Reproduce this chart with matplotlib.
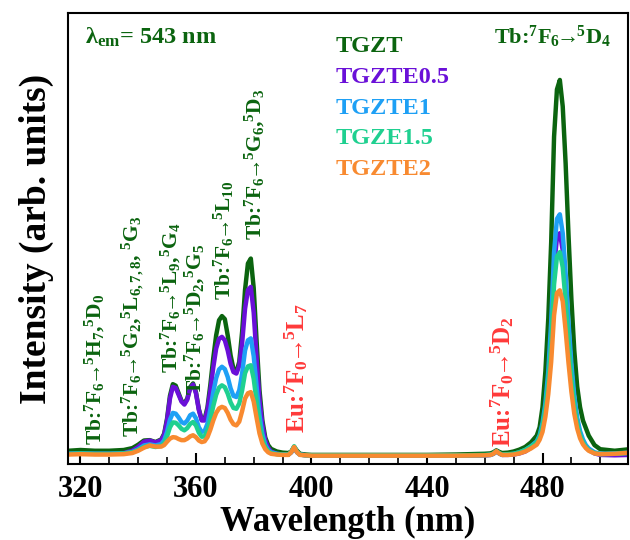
import matplotlib
matplotlib.use('Agg')
import matplotlib.pyplot as plt
from matplotlib.ticker import MultipleLocator

plt.rcParams['font.family'] = ['Liberation Serif', 'DejaVu Serif']
plt.rcParams['font.weight'] = 'bold'
plt.rcParams['mathtext.fontset'] = 'custom'
plt.rcParams['mathtext.rm'] = 'Liberation Serif:bold'
plt.rcParams['mathtext.bf'] = 'Liberation Serif:bold'
plt.rcParams['mathtext.it'] = 'Liberation Serif:bold:italic'

# wavelength grid (nm)
wl = [316, 320, 325, 330, 335, 338, 340, 342, 344, 346,
      348, 349, 350, 351, 352, 353, 354, 355, 356, 357,
      358, 359, 360, 361, 362, 363, 364, 365, 366, 367,
      368, 369, 370, 371, 372, 373, 374, 375, 376, 377,
      378, 379, 380, 381, 382, 383, 384, 385, 386, 388,
      390, 392, 393, 394, 395, 396, 398, 400, 410, 420,
      430, 440, 450, 460, 462, 463, 464, 465, 466, 468,
      470, 472, 474, 476, 478, 479, 480, 481, 482, 483,
      484, 485, 486, 487, 488, 489, 490, 491, 492, 493,
      494, 495, 496, 498, 500, 505, 510]

tgzt = [0.020, 0.022, 0.020, 0.020, 0.022, 0.027, 0.036, 0.047, 0.048, 0.043,
        0.050, 0.065, 0.105, 0.165, 0.196, 0.192, 0.172, 0.152, 0.145, 0.158,
        0.188, 0.198, 0.175, 0.130, 0.102, 0.103, 0.135, 0.195, 0.265, 0.325,
        0.365, 0.376, 0.368, 0.325, 0.272, 0.236, 0.228, 0.255, 0.335, 0.445,
        0.515, 0.528, 0.450, 0.310, 0.180, 0.100, 0.055, 0.035, 0.025, 0.018,
        0.015, 0.014, 0.018, 0.030, 0.020, 0.012, 0.010, 0.009, 0.009, 0.009,
        0.009, 0.009, 0.010, 0.012, 0.013, 0.016, 0.021, 0.017, 0.014, 0.015,
        0.018, 0.023, 0.030, 0.042, 0.060, 0.082, 0.135, 0.230, 0.370, 0.570,
        0.850, 0.975, 1.000, 0.930, 0.780, 0.590, 0.420, 0.285, 0.190, 0.135,
        0.100, 0.080, 0.060, 0.035, 0.024, 0.020, 0.024]

tgzte05 = [0.012, 0.013, 0.012, 0.012, 0.014, 0.020, 0.030, 0.044, 0.047, 0.042,
           0.048, 0.062, 0.100, 0.158, 0.189, 0.186, 0.168, 0.150, 0.142, 0.155,
           0.185, 0.195, 0.172, 0.128, 0.100, 0.100, 0.128, 0.180, 0.240, 0.290,
           0.316, 0.321, 0.312, 0.285, 0.250, 0.228, 0.224, 0.245, 0.305, 0.395,
           0.445, 0.453, 0.385, 0.265, 0.155, 0.088, 0.048, 0.028, 0.018, 0.012,
           0.010, 0.010, 0.016, 0.028, 0.016, 0.010, 0.008, 0.007, 0.007, 0.007,
           0.007, 0.007, 0.007, 0.008, 0.009, 0.012, 0.018, 0.013, 0.009, 0.009,
           0.010, 0.013, 0.018, 0.028, 0.040, 0.056, 0.083, 0.135, 0.210, 0.330,
           0.505, 0.583, 0.595, 0.550, 0.450, 0.330, 0.230, 0.150, 0.098, 0.065,
           0.043, 0.030, 0.022, 0.013, 0.009, 0.008, 0.009]

tgzte1 = [0.012, 0.013, 0.012, 0.012, 0.013, 0.017, 0.024, 0.034, 0.037, 0.034,
          0.038, 0.048, 0.070, 0.102, 0.120, 0.118, 0.108, 0.096, 0.092, 0.100,
          0.114, 0.118, 0.106, 0.082, 0.070, 0.072, 0.092, 0.130, 0.175, 0.212,
          0.235, 0.242, 0.236, 0.215, 0.185, 0.165, 0.162, 0.180, 0.225, 0.285,
          0.312, 0.317, 0.270, 0.190, 0.115, 0.065, 0.036, 0.022, 0.016, 0.012,
          0.010, 0.010, 0.016, 0.030, 0.016, 0.010, 0.008, 0.007, 0.007, 0.007,
          0.007, 0.007, 0.007, 0.008, 0.009, 0.012, 0.018, 0.013, 0.009, 0.010,
          0.012, 0.016, 0.022, 0.032, 0.045, 0.061, 0.093, 0.145, 0.230, 0.360,
          0.545, 0.633, 0.645, 0.595, 0.490, 0.360, 0.250, 0.165, 0.108, 0.072,
          0.050, 0.035, 0.026, 0.016, 0.012, 0.013, 0.015]

tgze15 = [0.012, 0.013, 0.012, 0.012, 0.013, 0.016, 0.022, 0.030, 0.033, 0.030,
          0.033, 0.040, 0.058, 0.082, 0.095, 0.094, 0.087, 0.078, 0.074, 0.080,
          0.091, 0.096, 0.087, 0.068, 0.057, 0.058, 0.074, 0.102, 0.138, 0.168,
          0.187, 0.193, 0.188, 0.171, 0.148, 0.133, 0.131, 0.145, 0.180, 0.225,
          0.243, 0.246, 0.210, 0.150, 0.092, 0.053, 0.030, 0.019, 0.014, 0.011,
          0.010, 0.010, 0.017, 0.032, 0.017, 0.010, 0.008, 0.008, 0.008, 0.008,
          0.008, 0.008, 0.008, 0.009, 0.010, 0.013, 0.019, 0.014, 0.010, 0.011,
          0.012, 0.016, 0.022, 0.031, 0.042, 0.057, 0.083, 0.130, 0.200, 0.305,
          0.460, 0.533, 0.545, 0.505, 0.415, 0.310, 0.212, 0.140, 0.092, 0.062,
          0.042, 0.030, 0.022, 0.014, 0.011, 0.012, 0.014]

tgzte2 = [0.010, 0.011, 0.010, 0.010, 0.011, 0.014, 0.020, 0.028, 0.034, 0.031,
          0.031, 0.035, 0.044, 0.052, 0.056, 0.055, 0.051, 0.048, 0.048, 0.052,
          0.058, 0.061, 0.056, 0.047, 0.043, 0.045, 0.056, 0.076, 0.100, 0.120,
          0.132, 0.136, 0.133, 0.120, 0.102, 0.090, 0.087, 0.097, 0.125, 0.158,
          0.172, 0.175, 0.150, 0.107, 0.066, 0.039, 0.024, 0.016, 0.012, 0.010,
          0.009, 0.009, 0.016, 0.030, 0.016, 0.009, 0.008, 0.007, 0.007, 0.007,
          0.007, 0.007, 0.007, 0.008, 0.009, 0.012, 0.019, 0.013, 0.009, 0.009,
          0.010, 0.013, 0.018, 0.026, 0.036, 0.049, 0.070, 0.110, 0.170, 0.255,
          0.378, 0.437, 0.444, 0.415, 0.338, 0.252, 0.176, 0.118, 0.079, 0.053,
          0.037, 0.027, 0.020, 0.013, 0.011, 0.012, 0.015]

names = ['TGZT', 'TGZTE0.5', 'TGZTE1', 'TGZE1.5', 'TGZTE2']
colors = ['#0b640f', '#6a10d8', '#1ea0f5', '#1fd090', '#f88a30']
series = [tgzt, tgzte05, tgzte1, tgze15, tgzte2]

green = '#0b640f'
red = '#ff3a3a'
arr = r'$\!\!\rightarrow\!\!$'

fig = plt.figure(figsize=(6.3, 5.4), dpi=100)
ax = fig.add_axes([68/630, 1-464/540, 560/630, 451/540])

for y, c in zip(series, colors):
    ax.plot(wl, y, color=c, lw=3.2, solid_joinstyle='round')

ax.set_xlim(315.7, 509.6)
ax.set_ylim(-0.015, 1.177)
ax.xaxis.set_major_locator(MultipleLocator(40))
ax.xaxis.set_minor_locator(MultipleLocator(10))
ax.tick_params(axis='x', which='major', direction='in', length=8, width=1.5,
               labelsize=22, pad=8)
ax.tick_params(axis='x', which='minor', direction='in', length=5, width=1.2)
ax.set_yticks([])
for s in ax.spines.values():
    s.set_linewidth(1.5)

ax.set_xlabel('Wavelength (nm)', fontsize=25, fontweight='bold', labelpad=1)
ax.set_ylabel('Intensity (arb. units)', fontsize=27, fontweight='bold', labelpad=10)

# legend as coloured text
for i, (n, c) in enumerate(zip(names, colors)):
    ax.text(0.477, 0.925 - i*0.068, n, color=c, fontsize=17.5, fontweight='bold',
            transform=ax.transAxes, va='center', ha='left')

ax.text(0.03, 0.945, 'λ$_{\\mathrm{em}}$= 543 nm', color=green, fontsize=17.5,
        transform=ax.transAxes, va='center', ha='left')

# transition labels
rot = dict(rotation=90, ha='center', va='bottom', fontsize=15.5)
ax.text(325.0, 0.034, 'Tb:$^7$F$_6$' + arr + '$^5$H$_7$,$^5$D$_0$', color=green, **rot)
ax.text(338.2, 0.056, 'Tb:$^7$F$_6$' + arr + '$^5$G$_2$,$^5$L$_{6,7,8}$, $^5$G$_3$',
        color=green, **rot)
ax.text(351.4, 0.225, 'Tb:$^7$F$_6$' + arr + '$^5$L$_9$,$^5$G$_4$', color=green, **rot)
ax.text(359.7, 0.167, 'Tb:$^7$F$_6$' + arr + '$^5$D$_2$,$^5$G$_5$', color=green, **rot)
ax.text(369.7, 0.418, 'Tb:$^7$F$_6$' + arr + '$^5$L$_{10}$', color=green, **rot)
ax.text(380.4, 0.577, 'Tb:$^7$F$_6$' + arr + '$^5$G$_6$,$^5$D$_3$', color=green, **rot)
ax.text(394.6, 0.066, 'Eu:$^7$F$_0$' + arr + '$^5$L$_7$', color=red, **dict(rot, fontsize=18))
ax.text(465.9, 0.029, 'Eu:$^7$F$_0$' + arr + '$^5$D$_2$', color=red, **dict(rot, fontsize=18))
ax.text(483.6, 1.08, 'Tb:$^7$F$_6$' + arr + '$^5$D$_4$', color=green, fontsize=16,
        ha='center', va='bottom')

fig.savefig('out.png', dpi=100)
